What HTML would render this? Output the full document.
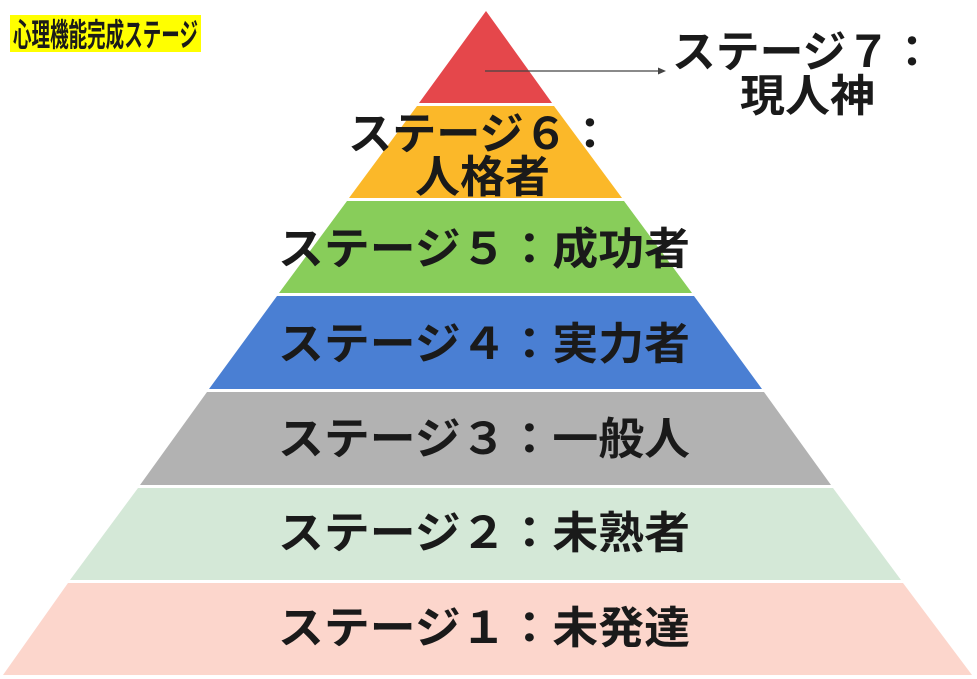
<!DOCTYPE html>
<html><head><meta charset="utf-8"><style>
html,body{margin:0;padding:0;background:#fff;width:977px;height:679px;overflow:hidden}
svg text{font-family:"Liberation Sans","Noto Sans CJK JP",sans-serif;font-weight:bold;fill:#1a1a1a}
</style></head><body>
<svg width="977" height="679" viewBox="0 0 977 679" xmlns="http://www.w3.org/2000/svg">
<rect x="10" y="15" width="191" height="37" fill="#ffff00"/>
<text x="13" y="46" font-size="32" textLength="185" lengthAdjust="spacingAndGlyphs">心理機能完成ステージ</text>
<polygon points="486,11 552,103 419,103" fill="#e5474b"/>
<polygon points="554,106 622,198 349,198 417,106" fill="#fbb829"/>
<polygon points="624,201 692,293 279,293 347,201" fill="#88cd5a"/>
<polygon points="694,296 762,389 209,389 277,296" fill="#4a7fd3"/>
<polygon points="764,392 831,485 140,485 207,392" fill="#b2b2b2"/>
<polygon points="833,488 901,580 70,580 138,488" fill="#d4e8d7"/>
<polygon points="903,583 972,675 3,675 68,583" fill="#fcd6cc"/>
<line x1="485" y1="71" x2="660" y2="71" stroke="#444" stroke-width="1.2"/>
<polygon points="666,71 658,67.5 658,74.5" fill="#444"/>
<text x="672" y="67" font-size="44" textLength="262" lengthAdjust="spacingAndGlyphs">ステージ７：</text>
<text x="740" y="111" font-size="44" textLength="135" lengthAdjust="spacingAndGlyphs">現人神</text>
<text x="348" y="149" font-size="44" textLength="264" lengthAdjust="spacingAndGlyphs">ステージ６：</text>
<text x="415" y="192" font-size="44" textLength="135" lengthAdjust="spacingAndGlyphs">人格者</text>
<text x="278" y="264" font-size="44" textLength="412" lengthAdjust="spacingAndGlyphs">ステージ５：成功者</text>
<text x="278" y="359" font-size="44" textLength="412" lengthAdjust="spacingAndGlyphs">ステージ４：実力者</text>
<text x="278" y="454" font-size="44" textLength="412" lengthAdjust="spacingAndGlyphs">ステージ３：一般人</text>
<text x="278" y="548" font-size="44" textLength="412" lengthAdjust="spacingAndGlyphs">ステージ２：未熟者</text>
<text x="278" y="643" font-size="44" textLength="412" lengthAdjust="spacingAndGlyphs">ステージ１：未発達</text>
</svg>
</body></html>
